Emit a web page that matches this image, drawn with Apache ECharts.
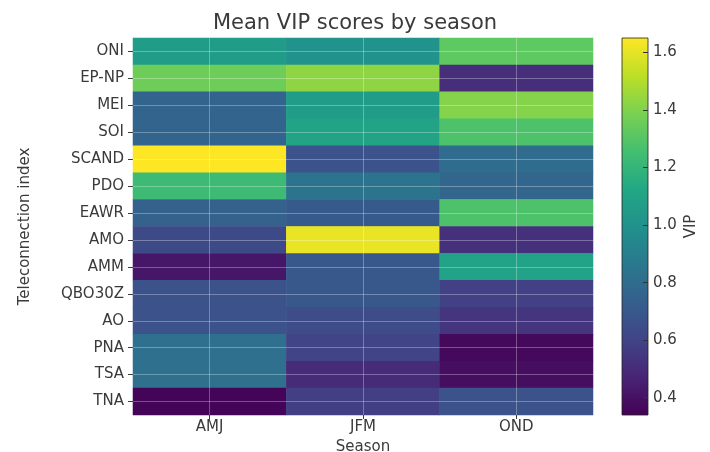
<!DOCTYPE html>
<html><head><meta charset="utf-8">
<script src="https://cdn.jsdelivr.net/npm/echarts@6/dist/echarts.min.js"></script>
<style>html,body{margin:0;padding:0;background:#fff}#c{width:710px;height:452px}</style>
</head><body><div id="c"></div>
<script>
const seasons = ['AMJ', 'JFM', 'OND'];
const indices = ['ONI','EP-NP','MEI','SOI','SCAND','PDO','EAWR','AMO','AMM','QBO30Z','AO','PNA','TSA','TNA'];
const vipAMJ = [1.06,1.36,0.76,0.76,1.65,1.23,0.75,0.63,0.42,0.67,0.67,0.82,0.82,0.35];
const vipJFM = [1.00,1.43,1.06,1.10,0.67,0.84,0.71,1.61,0.70,0.70,0.64,0.60,0.50,0.58];
const vipOND = [1.32,0.51,1.41,1.28,0.80,0.77,1.28,0.52,1.09,0.59,0.54,0.37,0.39,0.67];
const colorbarTicks = [0.4,0.6,0.8,1.0,1.2,1.4,1.6];
const vipMin = 0.34, vipMax = 1.65;
const viridis = ['#440154','#482475','#414487','#355f8d','#2a788e','#21918c','#22a884','#44bf70','#7ad151','#bddf26','#fde725'];

const seasonValues = [vipAMJ, vipJFM, vipOND];
const data = [];
seasonValues.forEach((vals, si) => vals.forEach((v, ri) => data.push([si, ri, v])));

const font = 'DejaVu Sans';
const txt = '#3a3a3a';
const fs = 15;
const chart = echarts.init(document.getElementById('c'));
const stops = viridis.map((c, i) => ({offset: i / (viridis.length - 1), color: c}));

chart.setOption({
  animation: false,
  backgroundColor: '#fff',
  textStyle: {fontFamily: font},
  title: {text: 'Mean VIP scores by season', left: 'center', top: 8,
    textStyle: {fontFamily: font, fontSize: 21, fontWeight: 'normal', color: txt}},
  grid: [
    {left: 133, top: 38, width: 460, height: 377, outerBoundsMode: 'none', containLabel: false},
    {left: 622, top: 38, width: 26, height: 377, outerBoundsMode: 'none', containLabel: false}
  ],
  xAxis: [
    {type: 'category', data: seasons, gridIndex: 0,
      axisLine: {show: false}, axisTick: {show: true, alignWithLabel: true, length: 4, lineStyle: {color: txt}},
      axisLabel: {fontSize: fs, color: txt, fontFamily: font, margin: 5},
      name: 'Season', nameLocation: 'middle', nameGap: 21,
      nameTextStyle: {fontSize: fs, color: txt, fontFamily: font},
      splitLine: {show: false}},
    {type: 'category', data: [''], gridIndex: 1, show: false}
  ],
  yAxis: [
    {type: 'category', data: indices, inverse: true, gridIndex: 0,
      axisLine: {show: false}, axisTick: {show: true, alignWithLabel: true, length: 5, lineStyle: {color: txt}},
      axisLabel: {fontSize: fs, color: txt, fontFamily: font, margin: 9},
      name: 'Teleconnection index', nameLocation: 'middle', nameGap: 100, nameRotate: 90,
      nameTextStyle: {fontSize: fs, color: txt, fontFamily: font},
      splitLine: {show: false}},
    {type: 'value', gridIndex: 1, position: 'right', min: vipMin, max: vipMax,
      axisLine: {show: false},
      axisTick: {show: true, length: 5, inside: true, customValues: colorbarTicks, lineStyle: {color: '#333'}},
      axisLabel: {fontSize: fs, color: txt, fontFamily: font, margin: 5, customValues: colorbarTicks,
        formatter: v => v.toFixed(1)},
      splitLine: {show: false},
      name: 'VIP', nameLocation: 'middle', nameGap: 36, nameRotate: 90,
      nameTextStyle: {fontSize: fs, color: txt, fontFamily: font}}
  ],
  visualMap: {show: false, min: vipMin, max: vipMax, seriesIndex: 0, dimension: 2,
    inRange: {color: viridis}},
  graphic: [{
    type: 'rect', z: -1,
    shape: {x: 622, y: 38, width: 26, height: 377},
    style: {fill: new echarts.graphic.LinearGradient(0, 1, 0, 0, stops), stroke: '#222', lineWidth: 0.8}
  }],
  series: [{
    type: 'heatmap', xAxisIndex: 0, yAxisIndex: 0, data: data,
    itemStyle: {borderWidth: 0},
    emphasis: {disabled: true},
    markLine: {
      silent: true, symbol: 'none', label: {show: false},
      lineStyle: {color: 'rgba(255,255,255,0.3)', width: 1, type: 'solid'},
      data: seasons.map(s => ({xAxis: s})).concat(indices.map(r => ({yAxis: r})))
    }
  }]
});
</script></body></html>
